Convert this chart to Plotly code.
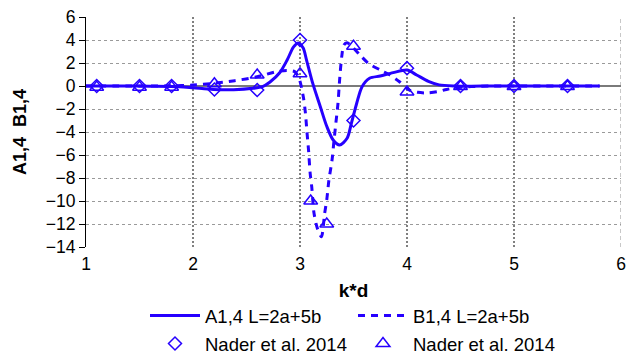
import plotly.graph_objects as go

# Computed coefficient A1,4 for L = 2a+5b
k_a = [1.0, 1.3, 1.6, 1.87, 2.0, 2.19, 2.38, 2.56, 2.65, 2.72, 2.81, 2.88, 2.94, 2.985,
       3.03, 3.06, 3.12, 3.19, 3.25, 3.31, 3.37, 3.44, 3.48, 3.53, 3.58, 3.65, 3.75,
       3.87, 4.0, 4.09, 4.2, 4.3, 4.45, 4.6, 4.8, 5.0, 5.2, 5.4, 5.6, 5.8]
a14 = [0.0, 0.0, -0.02, -0.06, -0.15, -0.3, -0.32, -0.2, -0.05, 0.35, 1.15, 2.26, 3.4, 3.75,
       3.3, 2.3, 0.2, -1.8, -3.5, -4.7, -5.13, -4.55, -3.25, -1.5, -0.06, 0.67, 0.87,
       1.16, 1.39, 0.96, 0.4, 0.1, 0.0, -0.02, 0.0, 0.0, 0.0, 0.0, 0.0, 0.0]

# Computed coefficient B1,4 for L = 2a+5b
k_b = [1.0, 1.5, 1.8, 2.0, 2.19, 2.39, 2.6, 2.78, 2.88, 2.95, 2.99, 3.03, 3.05, 3.065,
       3.08, 3.095, 3.11, 3.13, 3.16, 3.2, 3.23, 3.25, 3.27, 3.3, 3.315, 3.335, 3.355,
       3.37, 3.39, 3.41, 3.44, 3.5, 3.56, 3.64, 3.75, 3.84, 3.93, 4.02, 4.1, 4.18, 4.28,
       4.37, 4.46, 4.6, 4.8, 5.0, 5.4, 5.8]
b14 = [0.0, 0.0, 0.02, 0.09, 0.23, 0.46, 0.8, 1.25, 1.35, 1.25, 0.7, -0.9, -2.3, -4.0,
       -5.6, -7.6, -8.8, -11.0, -12.3, -13.1, -11.1, -9.9, -8.2, -6.4, -5.0, -3.25, -1.5,
       0.5, 2.55, 3.57, 3.77, 3.3, 2.7, 1.97, 1.39, 0.96, 0.37, -0.35, -0.55, -0.6, -0.5,
       -0.3, -0.15, -0.05, 0.0, 0.0, 0.0, 0.0]

# Published values, Nader et al. 2014
k_nader_a = [1.1, 1.5, 1.8, 2.2, 2.6, 3.0, 3.5, 4.0, 4.5, 5.0, 5.5]
a_nader = [0.0, 0.0, 0.0, -0.3, -0.35, 4.0, -3.0, 1.55, 0.0, 0.0, 0.0]
k_nader_b = [1.1, 1.5, 1.8, 2.2, 2.6, 3.0, 3.1, 3.25, 3.5, 4.0, 4.5, 5.0, 5.5]
b_nader = [-0.1, -0.1, -0.1, 0.19, 0.96, 1.07, -10.0, -12.0, 3.45, -0.52, -0.05, -0.05, -0.05]

x_ticks = [1, 2, 3, 4, 5, 6]
x_grid = [2, 3, 4, 5]

BLUE = "#2600FF"
FONT = "Arial"

fig = go.Figure()
fig.add_trace(go.Scatter(x=k_a, y=a14, mode="lines", name="A1,4 L=2a+5b",
                         line=dict(color=BLUE, width=3, shape="spline", smoothing=0.8),
                         legend="legend"))
fig.add_trace(go.Scatter(x=k_b, y=b14, mode="lines", name="B1,4 L=2a+5b",
                         line=dict(color=BLUE, width=3, dash="7px,6px", shape="spline",
                                   smoothing=0.8),
                         legend="legend"))
fig.add_trace(go.Scatter(x=k_nader_a, y=a_nader, mode="markers", name="Nader et al. 2014",
                         marker=dict(symbol="diamond-open", size=10, color=BLUE,
                                     line=dict(width=1.5, color=BLUE)),
                         legend="legend2"))
fig.add_trace(go.Scatter(x=k_nader_b, y=b_nader, mode="markers", name="Nader et al. 2014",
                         marker=dict(symbol="triangle-up-open", size=12, color=BLUE,
                                     line=dict(width=1.5, color=BLUE)),
                         legend="legend2"))

shapes = [dict(type="line", xref="x", yref="paper", x0=v, x1=v, y0=0, y1=1,
               line=dict(color="black", width=1, dash="2px,2px"), layer="below")
          for v in x_grid]
shapes.append(dict(type="line", xref="x", yref="paper", x0=x_ticks[-1], x1=x_ticks[-1],
                   y0=0, y1=1, line=dict(color="#909090", width=1, dash="4px,3px"),
                   layer="below"))

legend_common = dict(orientation="h", entrywidth=143, entrywidthmode="pixels",
                     font=dict(family=FONT, size=18.5, color="black"),
                     bgcolor="rgba(0,0,0,0)", xanchor="left", yanchor="middle",
                     itemwidth=50)

fig.update_layout(
    width=630, height=354,
    margin=dict(l=86, r=9, t=17, b=107, autoexpand=False),
    plot_bgcolor="white", paper_bgcolor="white",
    font=dict(family=FONT, size=17.5, color="black"),
    showlegend=True,
    shapes=shapes,
    xaxis=dict(range=[1, 6], tickvals=x_ticks, showgrid=False, zeroline=False,
               showline=False, ticks="", tickfont=dict(size=17.5), ticklabelstandoff=4,
               title=dict(text="<b>k*d</b>", font=dict(size=19), standoff=11)),
    yaxis=dict(range=[-14, 6], dtick=2, showgrid=True, gridcolor="#9a9a9a",
               griddash="3px,3px", gridwidth=1, zeroline=True, zerolinecolor="#7a7a7a",
               zerolinewidth=1.5, showline=True, linecolor="black", linewidth=1,
               ticks="outside", ticklen=6, tickcolor="black", tickfont=dict(size=17.5),
               title=dict(text="<b>A1,4\u00a0 B1,4</b>", font=dict(size=18), standoff=14)),
    legend=dict(x=(145 - 86) / 535, y=(247 - 316) / 230, **legend_common),
    legend2=dict(x=(145 - 86) / 535, y=(247 - 344) / 230, **legend_common),
)

fig.write_html("out.html")
